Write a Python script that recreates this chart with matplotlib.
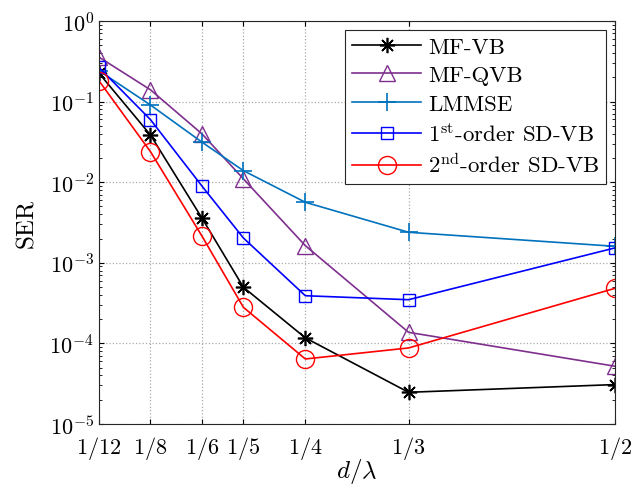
import numpy as np
import matplotlib
matplotlib.use("Agg")
import matplotlib.pyplot as plt

plt.rcParams['font.family'] = 'cmr10'
plt.rcParams['mathtext.fontset'] = 'cm'
plt.rcParams['axes.unicode_minus'] = False
plt.rcParams['axes.formatter.use_mathtext'] = True

# spacing d/lambda
x_vals = [1/12, 1/8, 1/6, 1/5, 1/4, 1/3, 1/2]
x_labels = ['$1/12$', '$1/8$', '$1/6$', '$1/5$', '$1/4$', '$1/3$', '$1/2$']

ser_mfvb = [0.226, 0.0385, 0.00356, 4.97e-4, 1.17e-4, 2.47e-5, 3.08e-5]
ser_mfqvb = [0.357, 0.14, 0.0396, 0.011, 0.00163, 1.37e-4, 5.2e-5]
ser_lmmse = [0.242, 0.0907, 0.0313, 0.0139, 0.00563, 0.00239, 0.0016]
ser_sd1 = [0.266, 0.0597, 0.0089, 0.00203, 3.9e-4, 3.48e-4, 0.00153]
ser_sd2 = [0.182, 0.0239, 0.00213, 2.8e-4, 6.4e-5, 8.77e-5, 4.82e-4]

fig = plt.figure(figsize=(6.42, 4.89), dpi=100)
ax = fig.add_axes([0.154, 0.131, 0.804, 0.824])

lw = 1.2
# matlab style asterisk: 8 arms
ax.semilogy(x_vals, ser_mfvb, color='k', marker=(8, 2, 0), ms=11, lw=lw, mew=1.2,
            label='MF-VB')
ax.semilogy(x_vals, ser_mfqvb, color='#7E2F8E', marker='^', ms=12, lw=lw, mfc='none',
            label='MF-QVB')
ax.semilogy(x_vals, ser_lmmse, color='#0072BD', marker='+', ms=13, lw=lw, mew=1.2,
            label='LMMSE')
ax.semilogy(x_vals, ser_sd1, color='b', marker='s', ms=9, lw=lw, mfc='none',
            label=r'1$^{\rm st}$-order SD-VB')
ax.semilogy(x_vals, ser_sd2, color='r', marker='o', ms=13, lw=lw, mfc='none',
            label=r'2$^{\rm nd}$-order SD-VB')

ax.set_xlim(1/12, 1/2)
ax.set_ylim(1e-5, 1)
ax.set_xticks(x_vals)
ax.set_xticklabels(x_labels)
ax.tick_params(which='both', direction='in', top=True, right=True, labelsize=16)
ax.tick_params(axis='x', pad=7)
ax.grid(True, which='major', ls=':', color='#aaaaaa', lw=0.9)
for s in ax.spines.values():
    s.set_linewidth(0.8)
    s.set_color('#262626')

ax.set_xlabel(r'$d/\lambda$', fontsize=18, labelpad=-3)
ax.set_ylabel('SER', fontsize=18, labelpad=8)

leg = ax.legend(loc='upper right', fontsize=16.5, fancybox=False, framealpha=1,
                edgecolor='#262626', borderpad=0.3, labelspacing=0.36,
                handlelength=3.0, handletextpad=0.3, borderaxespad=0.4)
leg.get_frame().set_linewidth(0.8)

fig.savefig('out.png', dpi=100)
